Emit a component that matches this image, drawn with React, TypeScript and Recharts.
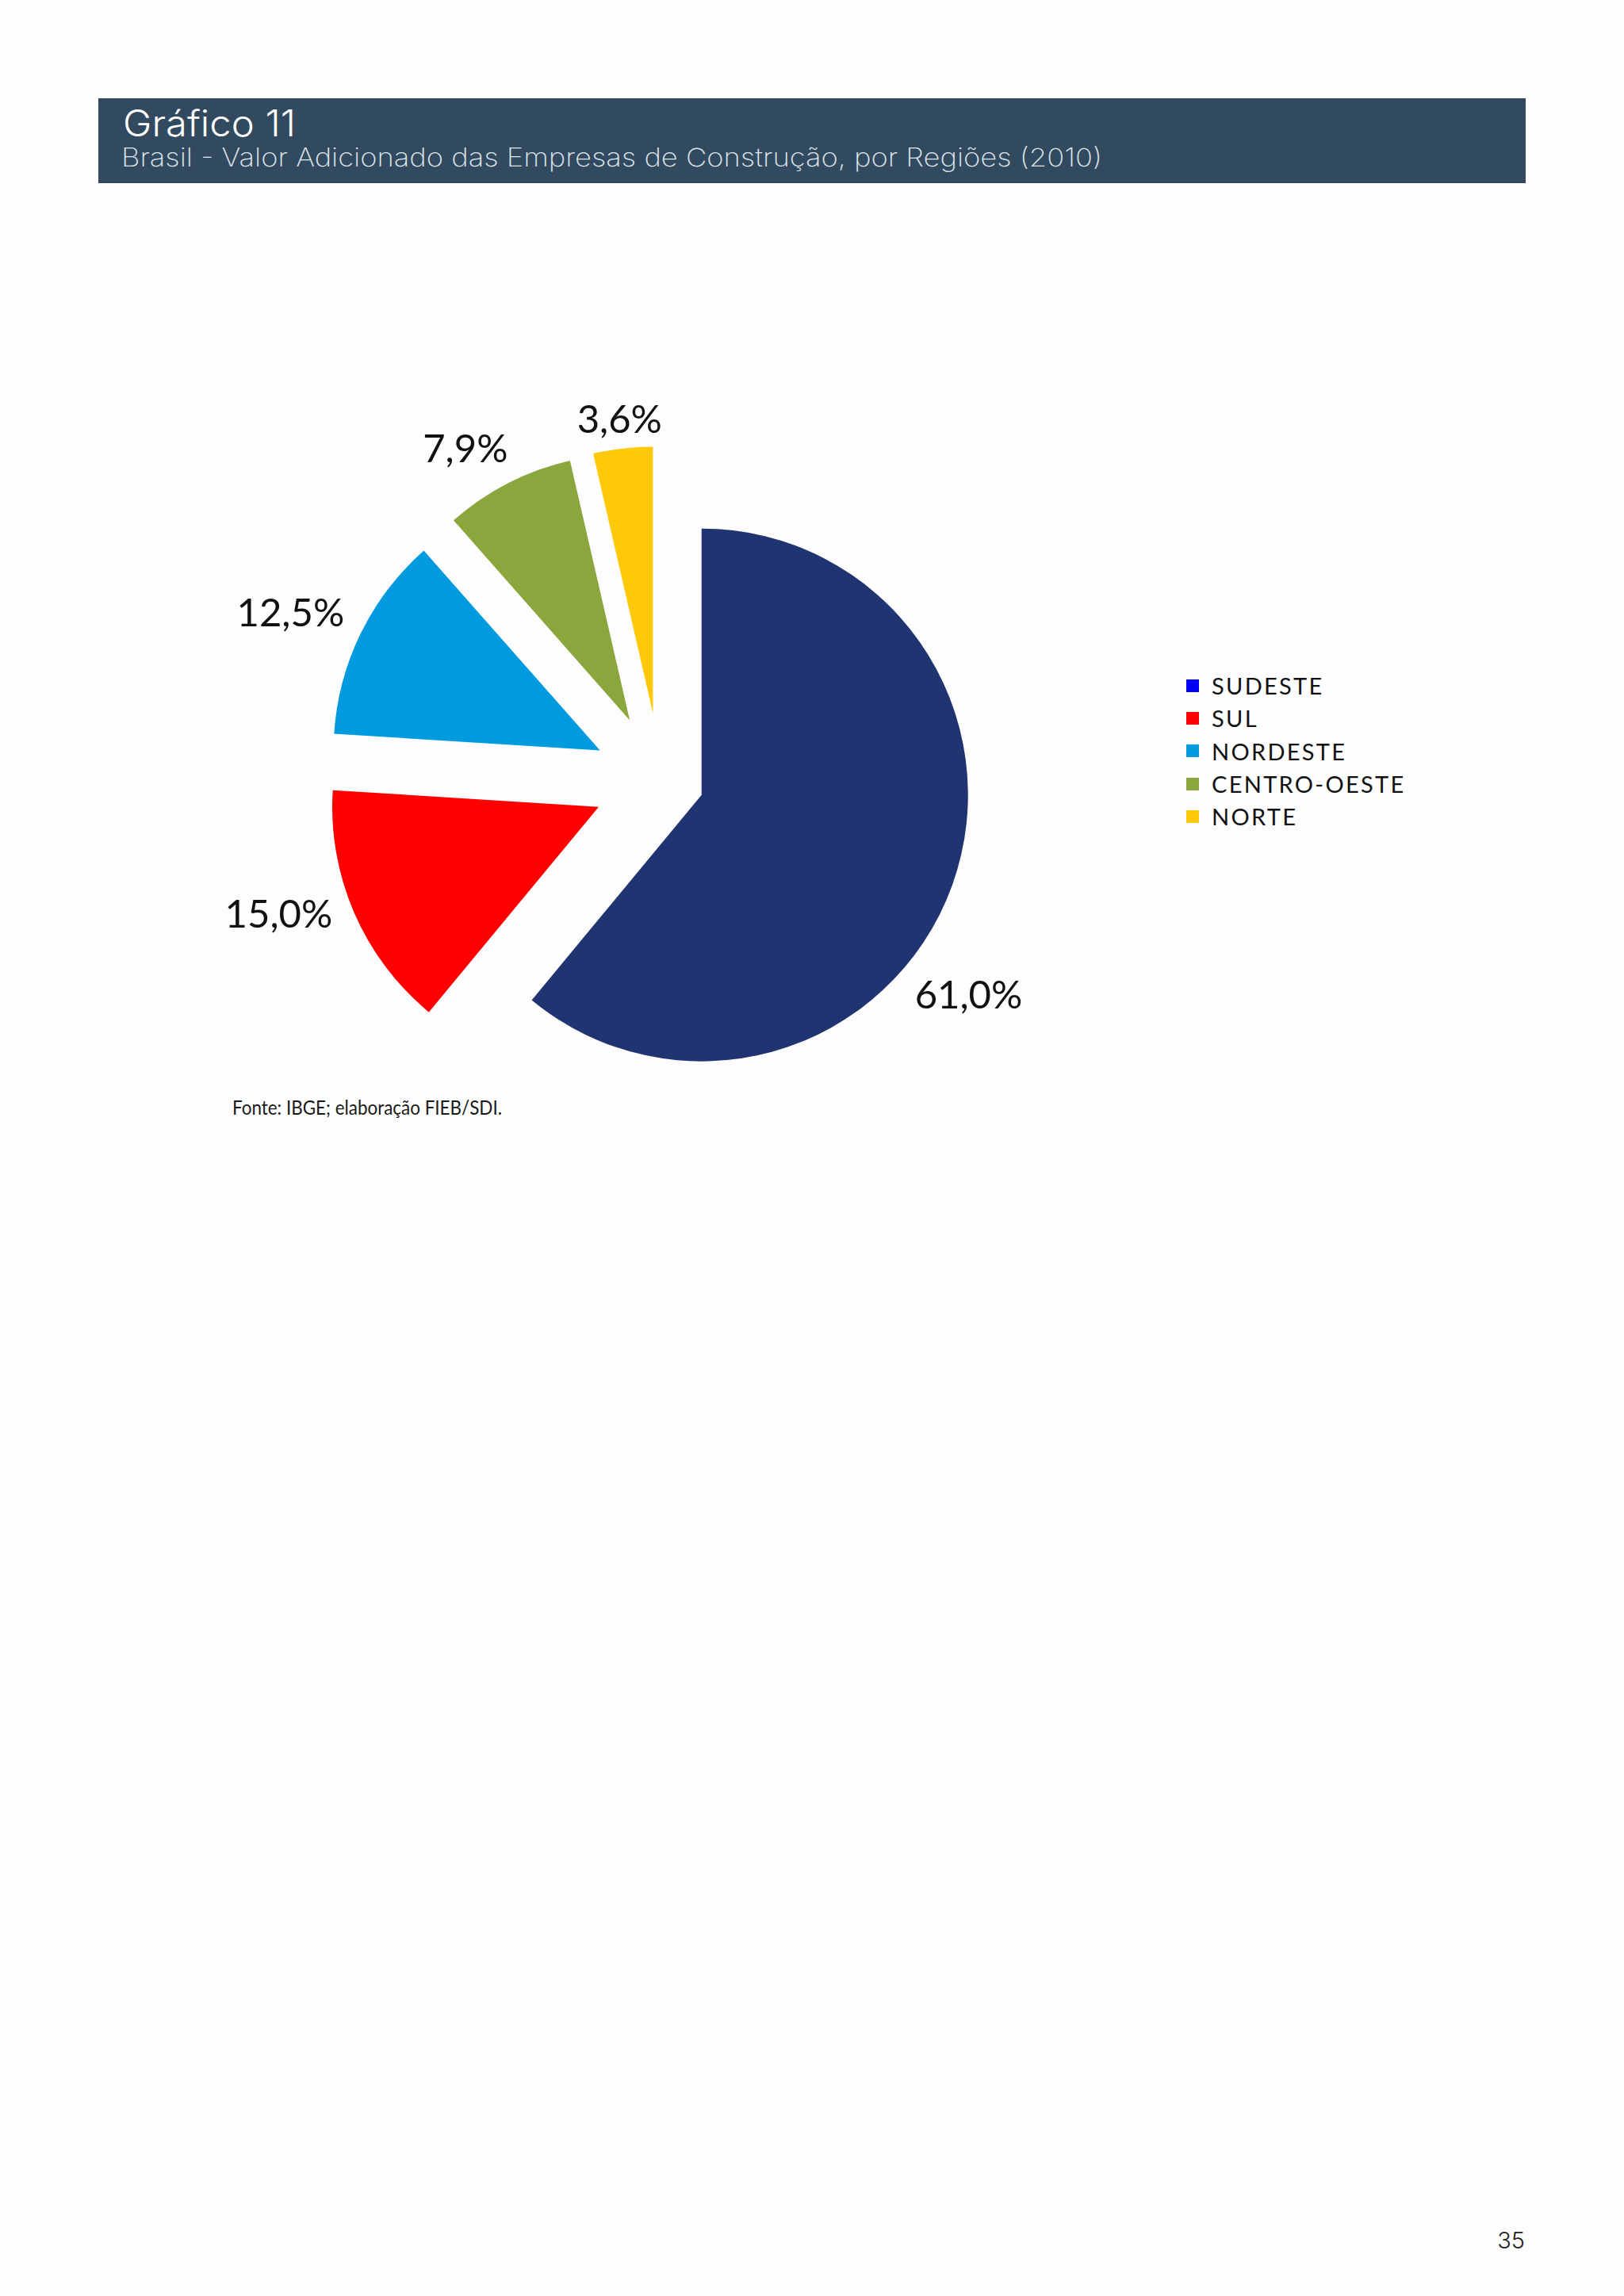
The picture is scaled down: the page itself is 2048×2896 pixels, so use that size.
import React from 'react';
import { PieChart, Pie, Cell, Legend } from 'recharts';

// ---- data ----
const regions = ['SUDESTE', 'SUL', 'NORDESTE', 'CENTRO-OESTE', 'NORTE'];
const shares = [61.0, 15.0, 12.5, 7.9, 3.6];
const valueLabels = ['61,0%', '15,0%', '12,5%', '7,9%', '3,6%'];
const sliceColors = ['#1F3471', '#FF0000', '#009ADE', '#8CA63E', '#FFC90A'];
const legendColors = ['#0000F5', '#FF0000', '#009ADE', '#8CA63E', '#FFC90A'];

const titleText = 'Gráfico 11';
const subtitleText = 'Brasil - Valor Adicionado das Empresas de Construção, por Regiões (2010)';
const sourceText = 'Fonte: IBGE; elaboração FIEB/SDI.';
const pageNumber = '35';

const data = regions.map((name, i) => ({ name, value: shares[i] }));

// ---- layout / style ----
const CX = 833;
const CY = 984;
const R = 336;
const explode = [55, 85, 85, 85, 85];
const labelNudge = [17, 5, -2, -4, 0];
const labelGap = [21, 21, 24, 22, 14];
const LABEL_FS = 49;
const total = shares.reduce((a, b) => a + b, 0);
const midDeg = shares.map((v, i) => {
  const before = shares.slice(0, i).reduce((a, b) => a + b, 0);
  return ((before + v / 2) / total) * 360;
});

const makeLabel = (focus: number) => (p: any) => {
  if (p.index !== focus) return null;
  const theta = ((90 - p.midAngle + labelNudge[focus]) * Math.PI) / 180;
  const s = Math.sin(theta);
  const c = Math.cos(theta);
  const text = valueLabels[focus];
  const halfW = text.length * 0.27 * LABEL_FS;
  const halfH = 0.36 * LABEL_FS;
  const d = p.outerRadius + labelGap[focus] + halfW * Math.abs(s) + halfH * Math.abs(c);
  return (
    <text
      key={`lbl-${focus}`}
      x={p.cx + d * s}
      y={p.cy - d * c}
      dy="0.36em"
      textAnchor="middle"
      fontFamily="Lato, 'Noto Sans', sans-serif"
      fontSize={LABEL_FS}
      fill="#111"
    >
      {text}
    </text>
  );
};

const renderLegend = () => (
  <div style={{ fontFamily: "Lato, 'Noto Sans', sans-serif" }}>
    {regions.map((r, i) => (
      <div key={r} style={{ display: 'flex', alignItems: 'center', height: 41.3 }}>
        <span style={{ display: 'inline-block', width: 16, height: 16, background: legendColors[i], marginRight: 16 }} />
        <span style={{ fontSize: 29, letterSpacing: 2.3, color: '#111', lineHeight: '41px' }}>{r}</span>
      </div>
    ))}
  </div>
);

export default function App() {
  return (
    <div style={{ position: 'absolute', left: 0, top: 0, width: 2048, height: 2896, background: '#FDFDFD', overflow: 'hidden' }}>
      <div style={{ position: 'absolute', left: 124, top: 124, width: 1800, height: 107, background: '#324A5F' }} />
      <svg style={{ position: 'absolute', left: 0, top: 0 }} width={2048} height={2896}>
        <text x={155} y={172} fontFamily="Inter, Lato, sans-serif" fontWeight={300} fontSize={46} fill="#FFFFFF" textLength={218} lengthAdjust="spacingAndGlyphs">
          {titleText}
        </text>
        <text x={153} y={210} fontFamily="Inter, Lato, sans-serif" fontWeight={200} fontSize={32} fill="#DDE5EC" textLength={1237} lengthAdjust="spacingAndGlyphs">
          {subtitleText}
        </text>
        <text x={293} y={1406} fontFamily="Lato, 'Noto Sans', sans-serif" fontSize={25} fill="#1A1A1A" textLength={340} lengthAdjust="spacingAndGlyphs">
          {sourceText}
        </text>
        <text x={1923} y={2836} textAnchor="end" fontFamily="Inter, Lato, sans-serif" fontWeight={300} fontSize={29} fill="#222">
          {pageNumber}
        </text>
      </svg>
      <div style={{ position: 'absolute', left: 0, top: 0 }}>
        <PieChart width={2048} height={1500} margin={{ top: 0, right: 0, bottom: 0, left: 0 }}>
          {regions.map((_, focus) => {
            const th = (midDeg[focus] * Math.PI) / 180;
            return (
              <Pie
                key={`pie-${focus}`}
                data={data}
                dataKey="value"
                nameKey="name"
                cx={CX + explode[focus] * Math.sin(th)}
                cy={CY - explode[focus] * Math.cos(th)}
                outerRadius={R}
                innerRadius={0}
                startAngle={90}
                endAngle={-270}
                stroke="none"
                isAnimationActive={false}
                labelLine={false}
                label={makeLabel(focus)}
                legendType="none"
              >
                {data.map((d, i) => (
                  <Cell key={d.name} fill={i === focus ? sliceColors[i] : 'none'} stroke="none" />
                ))}
              </Pie>
            );
          })}
          <Legend content={renderLegend} wrapperStyle={{ left: 1496, top: 844, width: 420, bottom: 'auto' }} />
        </PieChart>
      </div>
    </div>
  );
}
